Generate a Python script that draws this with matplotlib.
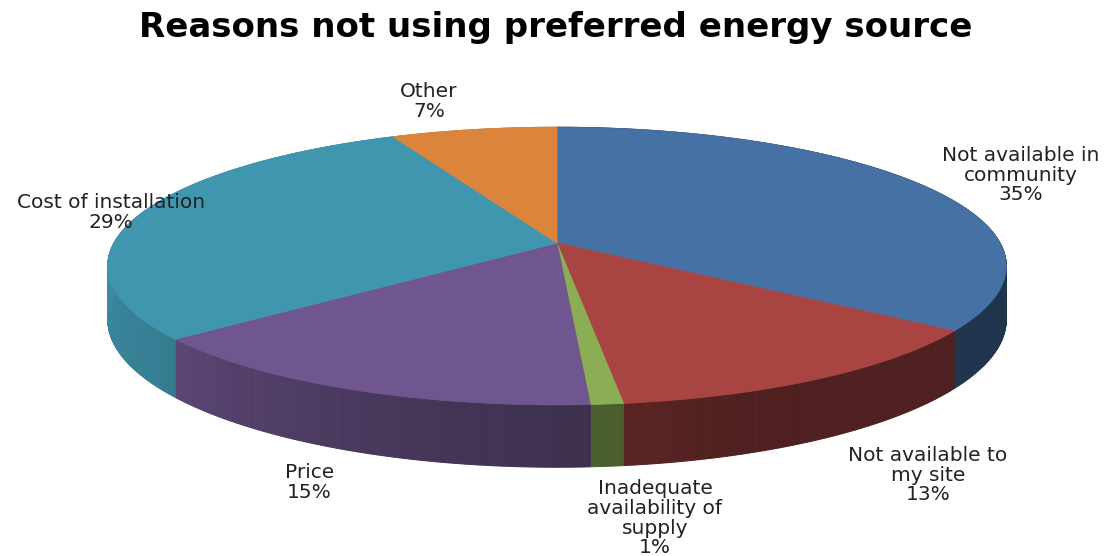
import numpy as np
import matplotlib
matplotlib.use("Agg")
import matplotlib.pyplot as plt
from matplotlib.collections import PolyCollection
from matplotlib.colors import to_rgb

# survey answers
reasons = ["Not available in\ncommunity", "Not available to\nmy site",
           "Inadequate\navailability of\nsupply", "Price",
           "Cost of installation", "Other"]
shares = [35, 13, 1, 15, 29, 7]
colors = ["#4571A5", "#A84542", "#8BAE55", "#6F568E", "#4096AF", "#DA843C"]

# pie geometry in pixels (3d look, slight perspective)
CX, CY = 557, 243
RX, RY = 443, 135
PERSP = 0.166
DEPTH = 52

# label nudges from the rim point of each slice
label_shift = [(97, -11), (108, 36), (48, 52), (-40, 32), (-29, -2), (-45, -28)]


def proj(theta, r=1.0, drop=0.0):
    # theta in degrees, clockwise from 12 o'clock
    t = np.radians(theta)
    u, v = r * np.sin(t), r * np.cos(t)
    w = 1 + PERSP * v
    return CX + RX * u / w, CY - RY * v / w + DEPTH * drop / w


def wall_shade(theta):
    th = np.mod(theta, 360)
    return np.interp(th, [0, 90, 160, 175, 205, 235, 265, 360],
                     [0.46, 0.46, 0.47, 0.54, 0.67, 0.84, 0.92, 0.92])


fig = plt.figure(figsize=(11.12, 5.56), dpi=100)
ax = fig.add_axes([0, 0, 1, 1])
ax.set_xlim(0, 1112)
ax.set_ylim(556, 0)
ax.axis("off")

bounds = np.concatenate([[0], np.cumsum(shares)]) * 3.6

# side walls, drawn as thin strips so the shading can follow the angle
quads, quad_cols = [], []
for i, c in enumerate(colors):
    a0, a1 = bounds[i], bounds[i + 1]
    n = max(int((a1 - a0) * 3), 4)
    ang = np.linspace(a0, a1, n + 1)
    base = np.array(to_rgb(c))
    for j in range(n):
        t0, t1 = ang[j], ang[j + 1]
        x0, y0 = proj(t0)
        x1, y1 = proj(t1)
        x2, y2 = proj(t1, drop=1)
        x3, y3 = proj(t0, drop=1)
        quads.append([(x0, y0), (x1, y1), (x2, y2), (x3, y3)])
        quad_cols.append(tuple(base * wall_shade(0.5 * (t0 + t1))))
ax.add_collection(PolyCollection(quads, facecolors=quad_cols,
                                 edgecolors=quad_cols, linewidths=0.7))

# top faces
for i, c in enumerate(colors):
    ang = np.linspace(bounds[i], bounds[i + 1], 200)
    xs, ys = proj(ang)
    pts = [(CX, CY)] + list(zip(xs, ys))
    ax.add_patch(plt.Polygon(pts, closed=True, facecolor=c,
                             edgecolor=c, linewidth=0.6))

# data labels
for i, name in enumerate(reasons):
    mid = 0.5 * (bounds[i] + bounds[i + 1])
    front = np.cos(np.radians(mid)) < 0
    x, y = proj(mid, drop=1 if front else 0)
    dx, dy = label_shift[i]
    ax.text(x + dx, y + dy, f"{name}\n{shares[i]}%", ha="center", va="center",
            fontsize=14.5, color="#222222", linespacing=1.05)

ax.text(556, 37, "Reasons not using preferred energy source", ha="center",
        va="baseline", fontsize=24.5, fontweight="bold", color="black")

fig.savefig("out.png", dpi=100)
